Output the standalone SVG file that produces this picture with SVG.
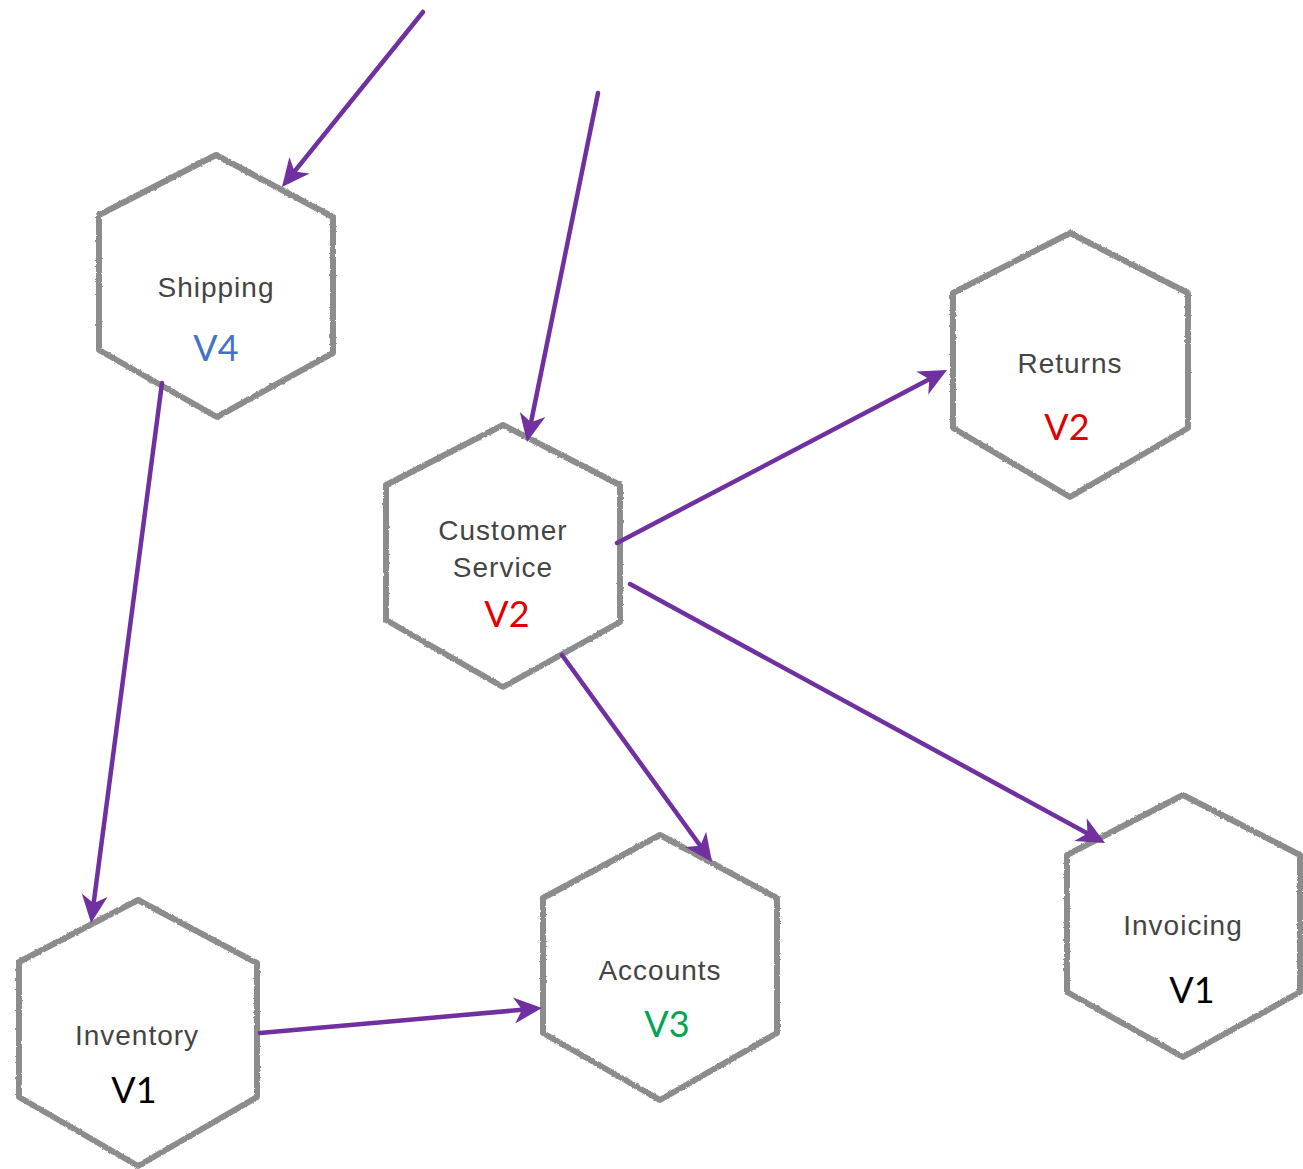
<svg xmlns="http://www.w3.org/2000/svg" width="1303" height="1169" viewBox="0 0 1303 1169">
  <style>
    .hex { fill: #ffffff; stroke: #8c8c8c; stroke-width: 6; stroke-linejoin: round; filter: url(#rough); }
    .name { font-family: "Liberation Sans", Arial, sans-serif; font-size: 28px; fill: #444444; text-anchor: middle; letter-spacing: 1px; }
    .ver { font-family: Lato, "Open Sans", sans-serif; font-size: 36px; text-anchor: middle; }
    .edge { fill: none; stroke: #7030a0; stroke-width: 4.5; stroke-linecap: round; marker-end: url(#arrow); }
  </style>
  <defs>
    <filter id="rough" x="-5%" y="-5%" width="110%" height="110%">
      <feTurbulence type="fractalNoise" baseFrequency="0.35" numOctaves="2" seed="3" result="n"/>
      <feDisplacementMap in="SourceGraphic" in2="n" scale="2.5" xChannelSelector="R" yChannelSelector="G"/>
    </filter>
    <marker id="arrow" viewBox="-18 -15 32 30" markerWidth="32" markerHeight="30" refX="0" refY="0" orient="auto" markerUnits="userSpaceOnUse">
      <path d="M12,0 L-16,-13 L-8,0 L-16,13 Z" fill="#7030a0"/>
    </marker>
  </defs>
  <rect width="1303" height="1169" fill="#ffffff"/>

  <g id="shipping">
    <polygon class="hex" points="216,155 333,217 333,353 217,417 99,350 99,215"/>
    <text class="name" x="216" y="297">Shipping</text>
    <text class="ver" x="216" y="361" fill="#4472c4">V4</text>
  </g>
  <g id="customer-service">
    <polygon class="hex" points="503,425 620,485 620,622 503,687 386,620 386,485"/>
    <text class="name" x="503" y="540">Customer</text>
    <text class="name" x="503" y="577">Service</text>
    <text class="ver" x="507" y="627" fill="#e00000">V2</text>
  </g>
  <g id="returns">
    <polygon class="hex" points="1070,233 1188,293 1188,428 1070,497 953,428 953,293"/>
    <text class="name" x="1070" y="373">Returns</text>
    <text class="ver" x="1067" y="440" fill="#e00000">V2</text>
  </g>
  <g id="inventory">
    <polygon class="hex" points="138,900 257,963 257,1097 138,1166 19,1097 19,962"/>
    <text class="name" x="137" y="1045">Inventory</text>
    <text class="ver" x="134" y="1103" fill="#000000">V1</text>
  </g>
  <g id="accounts">
    <polygon class="hex" points="660,835 777,898 777,1033 660,1100 543,1033 543,898"/>
    <text class="name" x="660" y="980">Accounts</text>
    <text class="ver" x="667" y="1037" fill="#00a651">V3</text>
  </g>
  <g id="invoicing">
    <polygon class="hex" points="1183,795 1300,855 1300,992 1183,1057 1067,992 1067,855"/>
    <text class="name" x="1183" y="935">Invoicing</text>
    <text class="ver" x="1192" y="1003" fill="#000000">V1</text>
  </g>

  <g id="connectors">
    <path class="edge" d="M423,12 L289.5,177.7"/>
    <path class="edge" d="M598,93 L529.4,430.2"/>
    <path class="edge" d="M162,383 L92.6,911.1"/>
    <path class="edge" d="M617,543 L936.4,375.6"/>
    <path class="edge" d="M630,584 L1094.5,837.3"/>
    <path class="edge" d="M562,655 L705,852.3"/>
    <path class="edge" d="M260,1033 L530,1009.1"/>
  </g>
</svg>
